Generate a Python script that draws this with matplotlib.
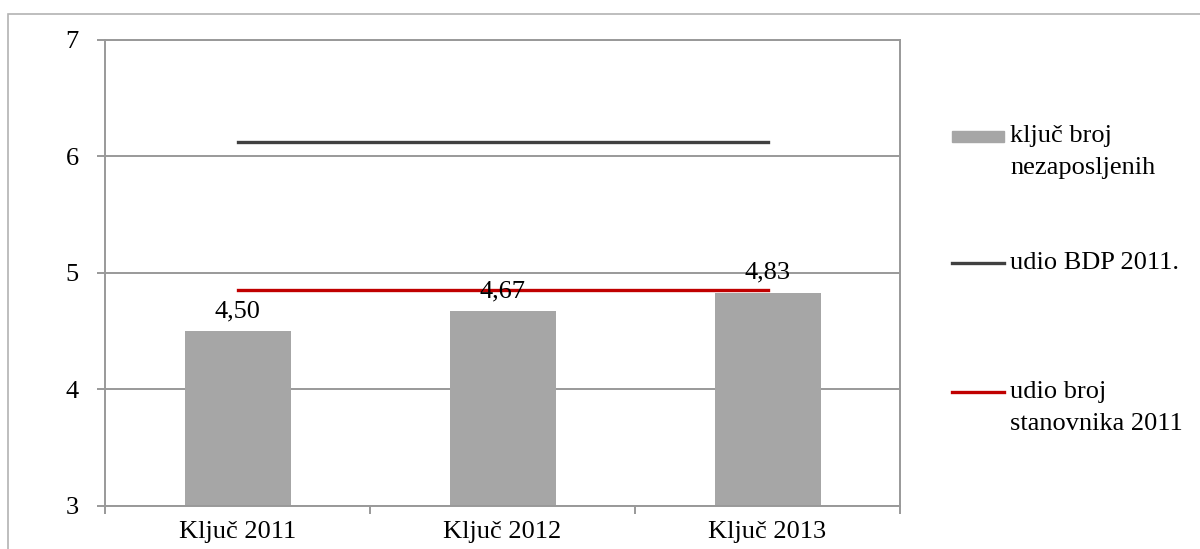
import matplotlib
matplotlib.use('Agg')
import matplotlib.pyplot as plt
from matplotlib.patches import Rectangle
from matplotlib.lines import Line2D

# data
categories = ['Ključ 2011', 'Ključ 2012', 'Ključ 2013']
kljuc_nezaposljenih = [4.50, 4.67, 4.83]
udio_bdp_2011 = [6.12, 6.12, 6.12]
udio_stanovnika_2011 = [4.85, 4.85, 4.85]
y_ticks = [3, 4, 5, 6, 7]

legend_labels = [['ključ broj', 'nezaposljenih'],
                 ['udio BDP 2011.'],
                 ['udio broj', 'stanovnika 2011']]

# style
W, H = 1200, 549
bar_col = '#a6a6a6'
dark_col = '#404040'
red_col = '#c00000'
grid_col = '#999999'
fs = 19

plt.rcParams['font.family'] = ['Liberation Serif', 'DejaVu Serif']

fig = plt.figure(figsize=(W/100, H/100), dpi=100)
fx = lambda px: px/W
fy = lambda py: 1 - py/H

ax = fig.add_axes([fx(105), fy(506), fx(900) - fx(105), fy(39.7) - fy(506)])

x = list(range(len(categories)))
ax.bar(x, kljuc_nezaposljenih, width=0.4, color=bar_col, zorder=2)
ax.plot(x, udio_bdp_2011, color=dark_col, lw=2.4, zorder=3)
ax.plot(x, udio_stanovnika_2011, color=red_col, lw=2.4, zorder=3)

for xi, v in zip(x, kljuc_nezaposljenih):
    ax.annotate(('%.2f' % v).replace('.', ','), (xi, v), xytext=(0, 10),
                textcoords='offset points', ha='center', va='baseline',
                fontsize=fs, zorder=4)

ax.set_xlim(-0.5, 2.5)
ax.set_ylim(3, 7)
ax.set_yticks(y_ticks)
ax.set_yticklabels([str(t) for t in y_ticks], fontsize=fs)
ax.yaxis.grid(True, color=grid_col, lw=1.4)
ax.set_axisbelow(True)

ax.set_xticks([-0.5, 0.5, 1.5, 2.5])
ax.set_xticklabels([])
ax.set_xticks(x, minor=True)
ax.set_xticklabels(categories, minor=True, fontsize=fs)
ax.tick_params(axis='x', which='minor', length=0, pad=11)
ax.tick_params(axis='x', which='major', length=6, width=1.4, color=grid_col)
ax.tick_params(axis='y', length=6, width=1.4, color=grid_col, pad=13)
for s in ax.spines.values():
    s.set_color(grid_col)
    s.set_linewidth(1.4)

# outer chart frame (cut by image edges)
fig.patches.append(Rectangle((fx(8), -0.1), 1.2, fy(14) + 0.1, transform=fig.transFigure,
                             fill=False, edgecolor='#b3b3b3', lw=1.2))

# legend
fig.patches.append(Rectangle((fx(952), fy(142)), fx(1004) - fx(952), 11/H,
                             transform=fig.transFigure, color=bar_col))
fig.lines.append(Line2D([fx(952), fx(1004)], [fy(263), fy(263)], color=dark_col, lw=2.4,
                        transform=fig.transFigure))
fig.lines.append(Line2D([fx(952), fx(1004)], [fy(392), fy(392)], color=red_col, lw=2.4,
                        transform=fig.transFigure))
for ys, lines in zip([136, 263, 392], legend_labels):
    for k, t in enumerate(lines):
        fig.text(fx(1010), fy(ys + 32*k), t, fontsize=fs, ha='left', va='center')

fig.savefig('out.png', dpi=100)
